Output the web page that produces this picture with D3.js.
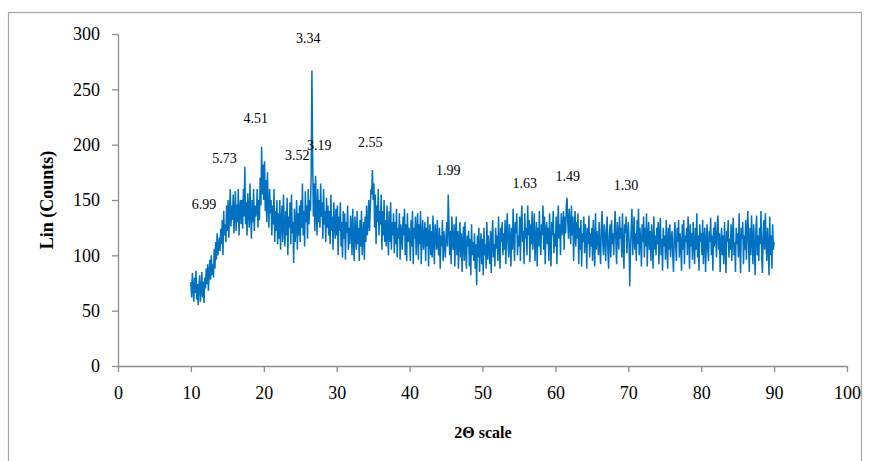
<!DOCTYPE html>
<html>
<head>
<meta charset="utf-8">
<script src="https://cdn.jsdelivr.net/npm/d3@7"></script>
<style>
  body { margin: 0; background: #fff; }
  svg { display: block; font-family: "Liberation Serif", "Times New Roman", serif; }
  .axis path, .axis line { stroke: #8c8c8c; stroke-width: 1.3; }
  .axis text { font-size: 18px; fill: #000; font-family: "Liberation Serif", serif; }
</style>
</head>
<body>
<script>
// diffractogram, 2theta from 10 to 90 deg in 0.1 deg steps (one row per degree)
var thetaStart = 10, thetaStep = 0.1;
var counts = [
  76, 62, 84, 70, 58, 80, 66, 86, 60, 74,
  55, 72, 82, 58, 68, 85, 62, 76, 57, 80,
  70, 88, 74, 92, 68, 84, 96, 78, 100, 82,
  92, 80, 106, 88, 112, 96, 120, 100, 108, 116,
  104, 124, 110, 132, 100, 140, 118, 128, 112, 145,
  122, 150, 116, 138, 160, 126, 145, 132, 155, 120,
  138, 158, 122, 146, 130, 160, 118, 142, 150, 128,
  150, 124, 160, 135, 180, 128, 148, 118, 156, 140,
  125, 165, 138, 115, 150, 130, 160, 122, 145, 135,
  140, 160, 125, 150, 132, 170, 145, 198, 155, 182,
  150, 185, 140, 168, 130, 175, 145, 125, 160, 138,
  150, 118, 145, 128, 160, 112, 140, 122, 150, 110,
  138, 115, 150, 105, 132, 145, 112, 155, 125, 108,
  140, 118, 152, 100, 135, 125, 148, 110, 155, 120,
  130, 93, 142, 112, 125, 150, 105, 138, 118, 145,
  112, 150, 125, 165, 118, 140, 108, 158, 130, 145,
  115, 160, 128, 150, 140, 175, 267, 190, 135, 165,
  122, 172, 140, 118, 160, 130, 150, 125, 165, 135,
  148, 115, 160, 128, 140, 112, 152, 125, 145, 118,
  140, 110, 155, 122, 135, 105, 148, 128, 115, 142,
  118, 145, 100, 135, 122, 148, 108, 130, 98, 140,
  115, 138, 96, 130, 120, 145, 105, 125, 110, 136,
  128, 100, 142, 112, 95, 135, 118, 105, 140, 110,
  125, 95, 132, 108, 140, 100, 118, 130, 96, 135,
  112, 145, 118, 128, 150, 122, 140, 160, 155, 177,
  150, 165, 125, 155, 110, 145, 130, 160, 118, 140,
  128, 155, 105, 140, 118, 150, 112, 132, 108, 145,
  122, 100, 140, 112, 148, 105, 130, 118, 138, 102,
  130, 110, 142, 98, 125, 115, 138, 96, 128, 120,
  105, 135, 118, 142, 100, 128, 95, 138, 112, 125,
  118, 95, 132, 108, 140, 92, 125, 115, 135, 100,
  122, 138, 96, 128, 110, 140, 92, 120, 132, 105,
  115, 130, 95, 125, 108, 135, 90, 118, 128, 100,
  122, 98, 136, 112, 92, 128, 118, 105, 132, 110,
  100, 125, 88, 118, 108, 132, 95, 122, 112, 98,
  118, 130, 108, 155, 128, 100, 122, 92, 135, 110,
  105, 128, 90, 118, 135, 100, 122, 88, 115, 130,
  98, 120, 85, 112, 126, 95, 130, 105, 88, 118,
  108, 122, 90, 115, 82, 128, 100, 112, 95, 120,
  88, 110, 73, 118, 98, 125, 85, 108, 120, 92,
  115, 82, 125, 100, 110, 88, 130, 96, 118, 105,
  92, 122, 84, 115, 132, 98, 110, 90, 125, 106,
  118, 95, 135, 108, 88, 125, 112, 130, 100, 120,
  105, 132, 92, 122, 138, 110, 98, 128, 115, 90,
  125, 105, 142, 115, 95, 130, 120, 138, 100, 118,
  108, 135, 95, 128, 145, 112, 122, 92, 138, 115,
  125, 100, 145, 118, 132, 94, 128, 110, 140, 105,
  120, 138, 95, 115, 130, 90, 125, 108, 140, 112,
  100, 128, 118, 145, 105, 135, 92, 122, 130, 110,
  125, 95, 138, 112, 90, 130, 118, 140, 102, 120,
  108, 135, 92, 125, 145, 115, 128, 100, 138, 118,
  125, 140, 105, 135, 120, 145, 152, 130, 115, 142,
  128, 110, 145, 118, 135, 95, 125, 140, 108, 130,
  115, 138, 92, 125, 105, 132, 90, 120, 112, 135,
  102, 128, 118, 88, 125, 110, 136, 98, 120, 108,
  125, 95, 132, 112, 90, 138, 105, 122, 115, 100,
  130, 108, 92, 125, 140, 112, 100, 128, 118, 95,
  122, 135, 105, 88, 118, 128, 98, 132, 110, 120,
  100, 125, 140, 112, 92, 130, 118, 105, 135, 115,
  125, 98, 138, 110, 88, 128, 120, 135, 102, 118,
  130, 112, 72, 108, 125, 142, 100, 118, 135, 105,
  120, 95, 132, 110, 142, 100, 125, 115, 90, 128,
  112, 135, 98, 125, 108, 138, 90, 118, 130, 105,
  122, 95, 128, 112, 88, 135, 105, 118, 100, 125,
  110, 130, 92, 120, 134, 100, 115, 86, 125, 108,
  118, 96, 132, 110, 88, 125, 105, 128, 98, 115,
  122, 100, 85, 118, 130, 108, 95, 125, 112, 132,
  98, 120, 110, 86, 128, 105, 132, 92, 118, 112,
  125, 100, 135, 115, 88, 128, 108, 120, 96, 130,
  110, 92, 125, 105, 138, 98, 118, 86, 128, 112,
  120, 100, 132, 92, 115, 125, 85, 110, 128, 105,
  95, 122, 112, 134, 100, 118, 86, 125, 108, 130,
  115, 98, 128, 136, 105, 120, 85, 112, 125, 100,
  118, 92, 130, 108, 84, 122, 112, 132, 98, 115,
  105, 128, 95, 118, 134, 100, 112, 85, 125, 110,
  120, 98, 138, 108, 84, 125, 115, 130, 92, 118,
  105, 132, 96, 122, 140, 110, 85, 125, 100, 136,
  115, 92, 128, 108, 82, 122, 136, 100, 118, 95,
  125, 110, 140, 98, 84, 120, 132, 105, 138, 112,
  95, 125, 108, 82, 135, 100, 118, 88, 128, 105,
  112
];

// d-spacing labels placed above their reflections
var peakLabels = ["6.99", "5.73", "4.51", "3.52", "3.34", "3.19", "2.55", "1.99", "1.63", "1.49", "1.30"];
var peakLabelX = [11.8, 14.6, 18.9, 24.6, 26.1, 27.6, 34.6, 45.3, 55.8, 61.7, 69.7];
var peakLabelY = [142, 183, 220, 186, 292, 195, 198, 173, 161, 167, 159];

var xTicks = [0, 10, 20, 30, 40, 50, 60, 70, 80, 90, 100];
var yTicks = [0, 50, 100, 150, 200, 250, 300];

var width = 872, height = 461;

var svg = d3.select("body").append("svg")
    .attr("width", width)
    .attr("height", height);

// chart area border
svg.append("rect")
    .attr("x", 8.5)
    .attr("y", 12.5)
    .attr("width", 853)
    .attr("height", 460)
    .attr("fill", "none")
    .attr("stroke", "#a6a6a6")
    .attr("stroke-width", 1.2);

var x = d3.scaleLinear().domain([0, 100]).range([118, 847]);
var y = d3.scaleLinear().domain([0, 300]).range([366, 34]);

var data = counts.map(function(c, i){
    return { t: thetaStart + i * thetaStep, c: c };
});

var xAxis = svg.append("g")
    .attr("class", "axis")
    .attr("transform", "translate(0," + y(0) + ")")
    .call(d3.axisBottom(x).tickValues(xTicks).tickSize(6).tickSizeOuter(0).tickPadding(18));

var yAxis = svg.append("g")
    .attr("class", "axis")
    .attr("transform", "translate(" + x(0) + ",0)")
    .call(d3.axisLeft(y).tickValues(yTicks).tickSize(6).tickSizeOuter(0).tickPadding(12));

xAxis.selectAll("text").attr("dy", "0.5em");

var line = d3.line()
    .x(function(d){ return x(d.t); })
    .y(function(d){ return y(d.c); });

svg.append("path")
    .datum(data)
    .attr("d", line)
    .attr("fill", "none")
    .attr("stroke", "#0070c0")
    .attr("stroke-width", 1.5)
    .attr("stroke-linejoin", "miter");

svg.selectAll(".peakLabel")
    .data(peakLabels)
    .enter()
    .append("text")
    .attr("class", "peakLabel")
    .attr("x", function(d, i){ return x(peakLabelX[i]); })
    .attr("y", function(d, i){ return y(peakLabelY[i]); })
    .attr("text-anchor", "middle")
    .style("font-size", "14px")
    .text(function(d){ return d; });

// axis titles
svg.append("text")
    .attr("x", 483)
    .attr("y", 438)
    .attr("text-anchor", "middle")
    .style("font-size", "16px")
    .style("font-weight", "bold")
    .text("2Θ scale");

svg.append("text")
    .attr("transform", "translate(53,200) rotate(-90)")
    .attr("text-anchor", "middle")
    .style("font-size", "18px")
    .style("font-weight", "bold")
    .text("Lin (Counts)");
</script>
</body>
</html>
